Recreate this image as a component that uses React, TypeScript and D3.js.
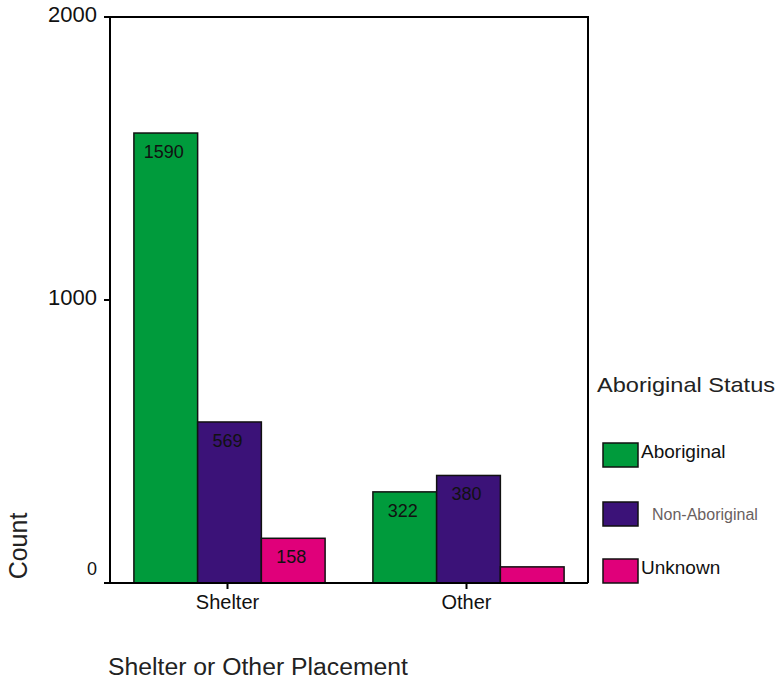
import React from "react";
import * as d3 from "d3";

const categories = ["Shelter", "Other"];
const seriesNames = ["Aboriginal", "Non-Aboriginal", "Unknown"];
const aboriginal = [1590, 322];
const nonAboriginal = [569, 380];
const unknown = [158, 57];
const yTicks = [0, 1000, 2000];
const seriesColors = ["#009b3c", "#3b1278", "#e0007a"];

const W = 775;
const H = 681;
const FONT = "'Liberation Sans', Arial, sans-serif";

export default function App() {
  const left = 110, right = 588, top = 17, bottom = 583;
  const y = d3.scaleLinear().domain([0, 2000]).range([bottom, top]);
  const x0 = d3.scaleBand<string>().domain(categories).range([left, right]).paddingInner(0.2).paddingOuter(0.1);
  const x1 = d3.scaleBand<string>().domain(seriesNames).range([0, x0.bandwidth()]);
  const seriesValues = [aboriginal, nonAboriginal, unknown];

  return (
    <div style={{ position: "absolute", left: 0, top: 0 }}>
      <svg width={W} height={H} style={{ display: "block", background: "#fff" }} fontFamily={FONT}>
        <rect x={0} y={0} width={W} height={H} fill="#fff" />
        {categories.map((c, ci) =>
          seriesNames.map((s, si) => {
            const v = seriesValues[si][ci];
            const bx = (x0(c) as number) + (x1(s) as number);
            const bw = x1.bandwidth();
            return (
              <g key={c + s}>
                <rect x={bx} y={y(v)} width={bw} height={bottom - y(v)} fill={seriesColors[si]} stroke="#111" strokeWidth={1.5} />
                {v >= 100 && (
                  <text x={bx + bw / 2 - 2} y={y(v) + 25} textAnchor="middle" fontSize={18} fill="#111">
                    {v}
                  </text>
                )}
              </g>
            );
          })
        )}
        <path d={`M${left},${bottom} L${left},${top} L${right},${top} L${right},${bottom}`} fill="none" stroke="#000" strokeWidth={2} />
        <line x1={104} x2={right} y1={bottom} y2={bottom} stroke="#000" strokeWidth={2} />
        {yTicks.map((t) => (
          <g key={t}>
            <line x1={104} x2={left} y1={y(t)} y2={y(t)} stroke="#000" strokeWidth={2} />
            <text x={97} y={y(t) + (t === 0 ? -8 : 5)} textAnchor="end" fontSize={t === 0 ? 18 : 22} fill="#111">
              {t}
            </text>
          </g>
        ))}
        {categories.map((c) => {
          const cx = (x0(c) as number) + x0.bandwidth() / 2 - 2;
          return (
            <g key={c}>
              <line x1={cx} x2={cx} y1={bottom} y2={bottom + 6} stroke="#000" strokeWidth={2} />
              <text x={cx} y={609} textAnchor="middle" fontSize={20} fill="#111">
                {c}
              </text>
            </g>
          );
        })}
        <text x={108} y={675} fontSize={23} fill="#222" textLength={300} lengthAdjust="spacingAndGlyphs">
          Shelter or Other Placement
        </text>
        <text transform={`translate(27,546) rotate(-90)`} textAnchor="middle" fontSize={25} fill="#222">
          Count
        </text>
        <text x={597} y={392} fontSize={21} fill="#222" textLength={178} lengthAdjust="spacingAndGlyphs">
          Aboriginal Status
        </text>
        {seriesNames.map((s, i) => {
          const sy = [443, 502, 559][i];
          return (
            <g key={s}>
              <rect x={603} y={sy} width={35} height={24} fill={seriesColors[i]} stroke="#111" strokeWidth={1.5} />
              {i === 1 ? (
                <text x={652} y={sy + 18} fontSize={16} fill="#6a5f5f">
                  {s}
                </text>
              ) : (
                <text x={641} y={sy + 15} fontSize={19} fill="#111">
                  {s}
                </text>
              )}
            </g>
          );
        })}
      </svg>
    </div>
  );
}
